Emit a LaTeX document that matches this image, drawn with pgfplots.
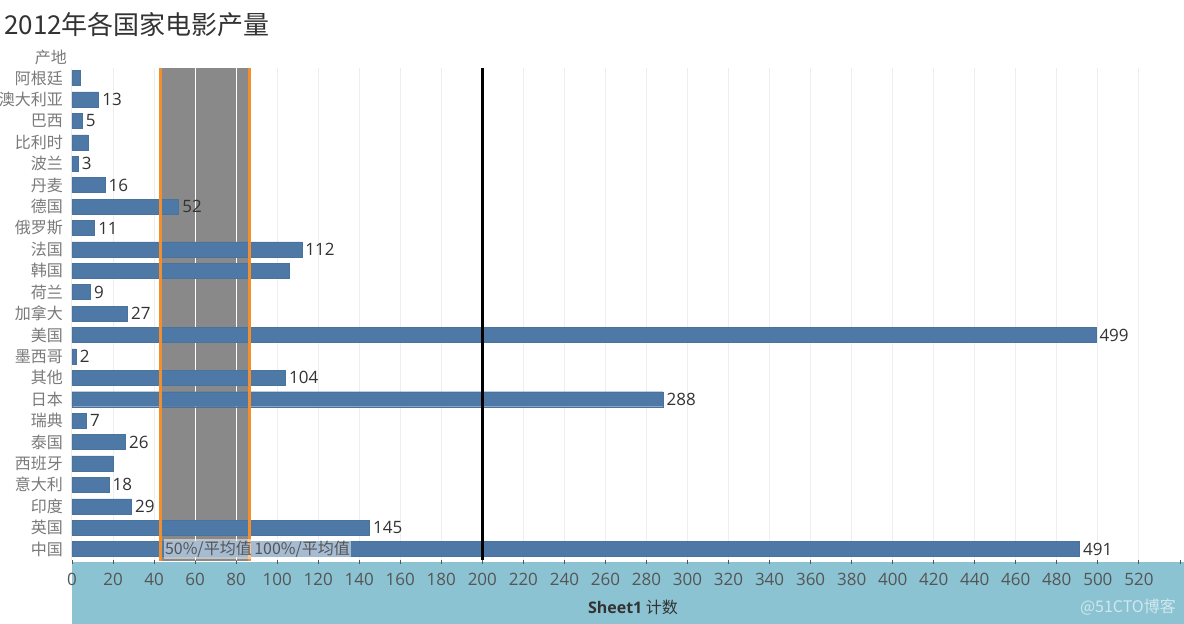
\documentclass[border=0pt]{standalone}
\usepackage{pgfplots}
\pgfplotsset{compat=1.18}
\usepackage{pgfplotstable}
\usepackage{fontspec}
\setmainfont{Noto Sans CJK SC}
\newfontfamily\numfont{Open Sans}
\definecolor{barblue}{HTML}{4E79A7}
\definecolor{bandblue}{HTML}{8BC3D3}
\definecolor{refgray}{HTML}{898989}
\definecolor{orng}{HTML}{F28E2B}
\definecolor{txtdark}{HTML}{333333}
\definecolor{ticktxt}{HTML}{555555}
\definecolor{catgray}{HTML}{7A7A7A}
\definecolor{gridc}{HTML}{EEEEEE}

\pgfplotstableread{
idx val lab
0 4 {}
1 13 13
2 5 5
3 8 {}
4 3 3
5 16 16
6 52 52
7 11 11
8 112 112
9 106 {}
10 9 9
11 27 27
12 499 499
13 2 2
14 104 104
15 288 288
16 7 7
17 26 26
18 20 {}
19 18 18
20 29 29
21 145 145
22 491 491
}\data

\begin{document}
\begin{tikzpicture}[x=1pt,y=1pt]
\useasboundingbox (0,0) rectangle (1184,624);
\fill[white] (0,0) rectangle (1184,624);
\fill[bandblue] (72,0) rectangle (1184,62);
\node[anchor=west, text=txtdark, font=\fontsize{26}{30}\selectfont, inner sep=0pt] at (4,599) {2012年各国家电影产量};
\node[text=txtdark, font=\fontsize{16}{19}\selectfont, inner sep=0pt] at (633,17) {{\numfont\bfseries Sheet1} 计数};
\node[anchor=east, text=white, opacity=0.6, font=\fontsize{16}{19}\selectfont, inner sep=0pt] at (1176,17) {@51CTO博客};
\node[anchor=east, text=catgray, font=\fontsize{16}{19}\selectfont, inner sep=0pt] at (67,567) {产地};
\begin{axis}[
  at={(72pt,64pt)}, anchor=south west,
  scale only axis, width=1112pt, height=492pt,
  xmin=0, xmax=542,
  ymin=-0.47, ymax=22.51, y dir=reverse,
  clip=false,
  axis line style={draw=none},
  xmajorgrids, grid style={gridc, line width=1pt},
  xtick={0,20,...,520},
  extra x ticks={540}, extra x tick labels={},
  extra x tick style={grid=none},
  xtick pos=bottom, tick align=outside,
  major tick length=4pt,
  x tick style={draw=ticktxt, line width=0.8pt},
  /pgf/number format/assume math mode=true,
  xticklabel style={text=ticktxt, font=\numfont\fontsize{17}{20}\selectfont, yshift=-6pt},
  ytick={0,...,22},
  yticklabels={阿根廷,澳大利亚,巴西,比利时,波兰,丹麦,德国,俄罗斯,法国,韩国,荷兰,加拿大,美国,墨西哥,其他,日本,瑞典,泰国,西班牙,意大利,印度,英国,中国},
  y tick style={draw=none},
  yticklabel style={text=catgray, font=\fontsize{16}{19}\selectfont, inner sep=0pt, xshift=-5pt},
]
\addplot[fill=refgray, draw=none] coordinates {(43.37,-0.47) (86.74,-0.47) (86.74,22.55) (43.37,22.55)} -- cycle;
\addplot[white, line width=1.2pt] coordinates {(60,-0.47) (60,22.51)};
\addplot[white, line width=1.2pt] coordinates {(80,-0.47) (80,22.51)};
\addplot[xbar, bar width=15pt, fill=barblue, draw=barblue!94!black, line width=0.4pt,
  point meta=explicit symbolic,
  nodes near coords, nodes near coords align={horizontal},
  every node near coord/.append style={text=txtdark, font=\numfont\fontsize{17}{20}\selectfont, inner sep=3.5pt, anchor=west}]
  table[x=val, y=idx, meta=lab] {\data};
\addplot[orng, line width=3pt] coordinates {(43.37,-0.47) (43.37,22.55)};
\addplot[orng, line width=3pt] coordinates {(86.74,-0.47) (86.74,22.55)};
\addplot[black, line width=2.5pt] coordinates {(200,-0.47) (200,22.51)};
\node[anchor=west, fill=white, fill opacity=0.5, text opacity=1, text=ticktxt, inner sep=1.5pt, minimum height=15pt, font=\fontsize{16}{19}\selectfont] at (axis cs:44.5,22) {50\%/平均值};
\node[anchor=west, fill=white, fill opacity=0.5, text opacity=1, text=ticktxt, inner sep=1.5pt, minimum height=15pt, font=\fontsize{16}{19}\selectfont] at (axis cs:88,22) {100\%/平均值};
\end{axis}
\end{tikzpicture}
\end{document}
